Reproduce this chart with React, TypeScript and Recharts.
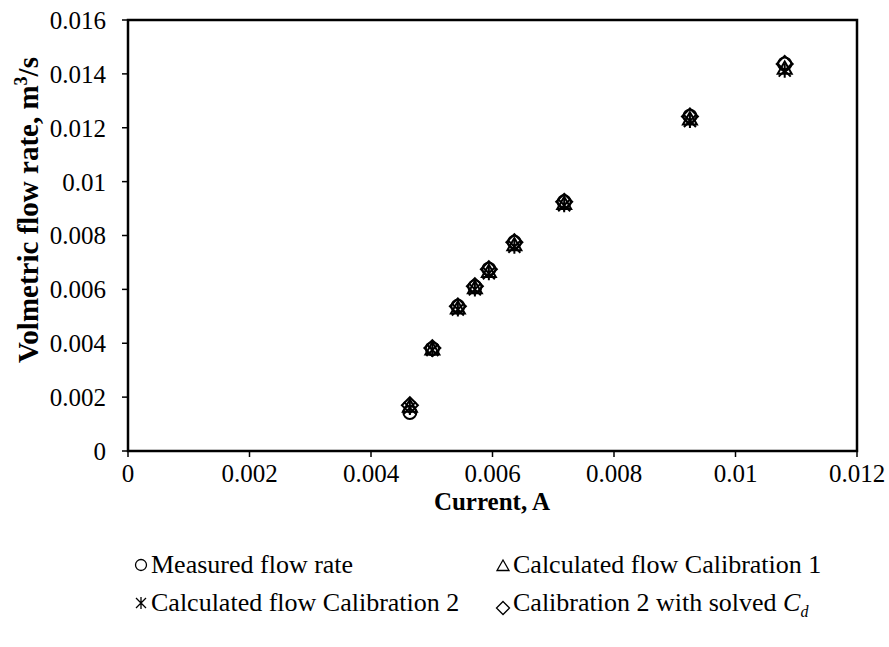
import React from 'react'
import {
  ScatterChart, Scatter, XAxis, YAxis, ReferenceArea,
} from 'recharts'

// current (A) for each test point
const current = [0.00464, 0.00501, 0.00543, 0.00571, 0.00594, 0.00636, 0.00718, 0.00925, 0.01081]

// flow rates, m3/s
const measured = [0.00143, 0.0038, 0.00537, 0.0061, 0.00675, 0.00775, 0.00925, 0.01243, 0.01437]
const calib1   = [0.00165, 0.00378, 0.0053, 0.00605, 0.00665, 0.00765, 0.00918, 0.01232, 0.0142]
const calib2   = [0.0016, 0.00375, 0.00525, 0.006, 0.0066, 0.00758, 0.00912, 0.01225, 0.01412]
const solvedCd = [0.0017, 0.00382, 0.00537, 0.00612, 0.00675, 0.00775, 0.00925, 0.01242, 0.01437]

const xTicks = [0, 0.002, 0.004, 0.006, 0.008, 0.01, 0.012]
const yTicks = [0, 0.002, 0.004, 0.006, 0.008, 0.01, 0.012, 0.014, 0.016]

const toPoints = (ys: number[]) => current.map((x, i) => ({ x, y: ys[i] }))

const FONT = '"Liberation Serif", "Times New Roman", serif'
const fmt = (v: number) => String(Number(v.toFixed(4)))

const CircleMark = ({ cx, cy, r = 6.5, sw = 2 }: any) => (
  <circle cx={cx} cy={cy} r={r} fill="none" stroke="#000" strokeWidth={sw} />
)
const TriMark = ({ cx, cy, s = 7, sw = 2 }: any) => (
  <path d={`M${cx},${cy - s} L${cx + s},${cy + s * 0.75} L${cx - s},${cy + s * 0.75} Z`} fill="none" stroke="#000" strokeWidth={sw} />
)
const StarMark = ({ cx, cy, s = 6, sw = 2 }: any) => (
  <path
    d={`M${cx - s},${cy - s} L${cx + s},${cy + s} M${cx + s},${cy - s} L${cx - s},${cy + s} M${cx},${cy - s - 1} L${cx},${cy + s + 1}`}
    stroke="#000" strokeWidth={sw} fill="none"
  />
)
const DiamondMark = ({ cx, cy, s = 8, sw = 2 }: any) => (
  <path d={`M${cx},${cy - s} L${cx + s},${cy} L${cx},${cy + s} L${cx - s},${cy} Z`} fill="none" stroke="#000" strokeWidth={sw} />
)

const YTitle = () => (
  <text
    x={38} y={210} transform="rotate(-90 38 210)" textAnchor="middle"
    fontFamily={FONT} fontWeight="bold" fontSize={29} fill="#000"
  >
    Volmetric flow rate, m<tspan dy={-11} fontSize={18}>3</tspan><tspan dy={11}>/s</tspan>
  </text>
)

const XTitle = () => (
  <text x={492} y={510} textAnchor="middle" fontFamily={FONT} fontWeight="bold" fontSize={25} fill="#000">
    Current, A
  </text>
)

const legendItem = (icon: React.ReactNode, label: React.ReactNode, left: number, top: number) => (
  <div style={{ position: 'absolute', left, top, display: 'flex', alignItems: 'center', fontFamily: FONT, fontSize: 26, lineHeight: '30px', color: '#000', whiteSpace: 'nowrap' }}>
    <svg width={16} height={16} style={{ marginRight: 2 }}>{icon}</svg>
    <span>{label}</span>
  </div>
)

export default function App() {
  return (
    <div style={{ position: 'absolute', left: 0, top: 0, width: 889, height: 647, background: '#fff' }}>
      <ScatterChart width={889} height={647} margin={{ top: 20, right: 32, left: 48, bottom: 136 }}>
        <XAxis
          type="number" dataKey="x" domain={[0, 0.012]} ticks={xTicks} tickFormatter={fmt}
          axisLine={{ stroke: '#000', strokeWidth: 2 }} tickLine={{ stroke: '#000', strokeWidth: 1.5 }}
          tickSize={6} tickMargin={7} height={60}
          tick={{ fill: '#000', fontFamily: FONT, fontSize: 25 }}
          label={<XTitle />}
        />
        <YAxis
          type="number" dataKey="y" domain={[0, 0.016]} ticks={yTicks} tickFormatter={fmt}
          axisLine={{ stroke: '#000', strokeWidth: 2 }} tickLine={{ stroke: '#000', strokeWidth: 1.5 }}
          tickSize={6} tickMargin={16} width={80}
          tick={{ fill: '#000', fontFamily: FONT, fontSize: 25 }}
          label={<YTitle />}
        />
        <ReferenceArea x1={0} x2={0.012} y1={0} y2={0.016} fill="none" stroke="#000" strokeWidth={2.5} ifOverflow="visible" />
        <Scatter data={toPoints(measured)} shape={<CircleMark />} isAnimationActive={false} />
        <Scatter data={toPoints(calib1)} shape={<TriMark />} isAnimationActive={false} />
        <Scatter data={toPoints(calib2)} shape={<StarMark />} isAnimationActive={false} />
        <Scatter data={toPoints(solvedCd)} shape={<DiamondMark />} isAnimationActive={false} />
      </ScatterChart>
      {legendItem(<CircleMark cx={8} cy={8} r={5.5} sw={1.3} />, 'Measured flow rate', 133, 550)}
      {legendItem(<TriMark cx={8} cy={9} s={6} sw={1.3} />, 'Calculated flow Calibration 1', 495, 550)}
      {legendItem(<StarMark cx={8} cy={8} s={5} sw={1.3} />, 'Calculated flow Calibration 2', 133, 588)}
      {legendItem(<DiamondMark cx={8} cy={8} s={6.5} sw={1.3} />, <>Calibration 2 with solved <i>C<sub style={{ fontSize: 16 }}>d</sub></i></>, 495, 588)}
    </div>
  )
}
